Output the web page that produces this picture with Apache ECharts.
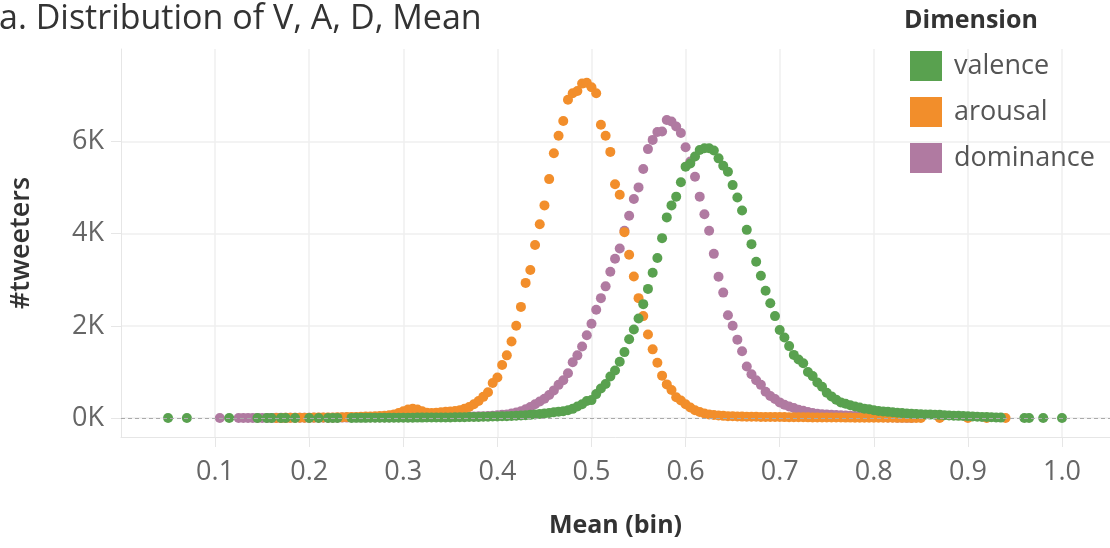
<!DOCTYPE html>
<html>
<head>
<meta charset="utf-8">
<script src="https://cdn.jsdelivr.net/npm/echarts@6/dist/echarts.min.js"></script>
<style>
html,body{margin:0;padding:0;background:#fff;}
#chart{width:1110px;height:548px;}
</style>
</head>
<body>
<div id="chart"></div>
<script>
// ---- data: [Mean bin, #tweeters] ----
const xTicks = [0.1, 0.2, 0.3, 0.4, 0.5, 0.6, 0.7, 0.8, 0.9, 1.0];
const yTicks = [0, 2000, 4000, 6000];
const legendNames = ['valence', 'arousal', 'dominance'];

const valence = [
  [0.05,1],[0.07,1],[0.115,1],[0.145,2],[0.155,2],[0.16,2],[0.17,2],[0.175,2],[0.185,3],[0.2,3],[0.21,3],[0.22,3],[0.225,3],[0.23,4],
  [0.245,4],[0.25,5],[0.255,5],[0.26,5],[0.265,6],[0.27,6],[0.275,6],[0.28,7],[0.285,7],[0.29,8],[0.295,8],[0.3,8],
  [0.305,9],[0.31,9],[0.315,10],[0.32,10],[0.325,11],[0.33,12],[0.335,12],[0.34,13],[0.345,14],[0.35,15],
  [0.355,17],[0.36,18],[0.365,20],[0.37,22],[0.375,24],[0.38,26],[0.385,28],[0.39,30],[0.395,33],[0.4,35],
  [0.405,38],[0.41,42],[0.415,46],[0.42,50],[0.425,55],[0.43,60],[0.435,70],[0.44,80],[0.445,90],[0.45,100],
  [0.455,110],[0.46,125],[0.465,140],[0.47,150],[0.475,170],[0.48,200],[0.485,250],[0.49,300],[0.495,370],[0.5,390],
  [0.505,520],[0.51,640],[0.515,740],[0.52,900],[0.525,1030],[0.53,1220],[0.535,1430],[0.54,1710],[0.545,1920],[0.55,2160],
  [0.555,2470],[0.56,2800],[0.565,3150],[0.57,3470],[0.575,3900],[0.58,4350],[0.585,4610],[0.59,4800],[0.595,5110],[0.6,5450],
  [0.605,5520],[0.61,5670],[0.615,5810],[0.62,5850],[0.625,5850],[0.63,5800],[0.635,5630],[0.64,5470],[0.645,5340],[0.65,5050],
  [0.655,4780],[0.66,4500],[0.665,4080],[0.67,3770],[0.675,3390],[0.68,3085],[0.685,2760],[0.69,2490],[0.695,2210],[0.7,1910],
  [0.705,1745],[0.71,1560],[0.715,1370],[0.72,1270],[0.725,1190],[0.73,1000],[0.735,910],[0.74,770],[0.745,680],[0.75,550],
  [0.755,470],[0.76,400],[0.765,340],[0.77,310],[0.775,280],[0.78,250],[0.785,230],[0.79,205],[0.795,190],[0.8,170],
  [0.805,155],[0.81,145],[0.815,135],[0.82,125],[0.825,115],[0.83,108],[0.835,100],[0.84,94],[0.845,88],[0.85,82],
  [0.855,78],[0.86,75],[0.865,72],[0.87,70],[0.875,64],[0.88,58],[0.885,52],[0.89,48],[0.895,44],[0.9,40],
  [0.905,35],[0.91,30],[0.915,26],[0.92,22],[0.925,18],[0.93,14],[0.935,10],[0.96,2],[0.965,2],[0.98,1],[1.0,1]
];

const arousal = [
  [0.165,3],[0.17,4],[0.175,5],[0.18,5],[0.185,6],[0.19,7],[0.195,8],[0.2,9],[0.205,10],[0.21,11],
  [0.215,12],[0.22,14],[0.225,15],[0.23,17],[0.235,19],[0.24,21],[0.245,23],[0.25,26],[0.255,29],[0.26,32],
  [0.265,36],[0.27,40],[0.275,45],[0.28,52],[0.285,62],[0.29,80],[0.295,110],[0.3,150],[0.305,185],[0.31,200],
  [0.315,185],[0.32,150],[0.325,115],[0.33,110],[0.335,115],[0.34,125],[0.345,135],[0.35,145],[0.355,155],[0.36,170],
  [0.365,200],[0.37,240],[0.375,300],[0.38,370],[0.385,460],[0.39,560],[0.395,760],[0.4,880],[0.405,1150],[0.41,1360],
  [0.415,1660],[0.42,2000],[0.425,2410],[0.43,2930],[0.435,3210],[0.44,3750],[0.445,4200],[0.45,4610],[0.455,5180],[0.46,5740],
  [0.465,6120],[0.47,6440],[0.475,6900],[0.48,7040],[0.485,7090],[0.49,7250],[0.495,7270],[0.5,7170],[0.505,7040],[0.51,6360],
  [0.515,6120],[0.52,5770],[0.525,5070],[0.53,4840],[0.535,4030],[0.54,3540],[0.545,3070],[0.55,2600],[0.555,2210],[0.56,1810],
  [0.565,1490],[0.57,1200],[0.575,920],[0.58,730],[0.585,610],[0.59,450],[0.595,380],[0.6,300],[0.605,230],[0.61,170],
  [0.615,130],[0.62,100],[0.625,80],[0.63,65],[0.635,55],[0.64,48],[0.645,42],[0.65,38],[0.655,35],[0.66,32],
  [0.665,30],[0.67,28],[0.675,27],[0.68,26],[0.685,25],[0.69,24],[0.695,23],[0.7,22],[0.705,21],[0.71,20],
  [0.715,19],[0.72,18],[0.725,17],[0.73,16],[0.735,15],[0.74,14],[0.745,13],[0.75,12],[0.755,12],[0.76,11],
  [0.765,11],[0.77,10],[0.775,10],[0.78,9],[0.785,9],[0.79,8],[0.795,8],[0.8,7],[0.805,7],[0.81,6],
  [0.815,6],[0.82,6],[0.825,5],[0.83,5],[0.835,5],[0.84,4],[0.845,4],[0.85,4],[0.87,3],[0.9,2],[0.92,2],[0.94,1]
];

const dominance = [
  [0.105,1],[0.125,2],[0.13,2],[0.135,3],[0.14,3],[0.145,3],[0.15,4],[0.155,4],[0.16,4],[0.165,5],
  [0.17,5],[0.175,5],[0.18,6],[0.185,6],[0.19,6],[0.195,7],[0.2,7],[0.205,7],[0.21,8],[0.215,8],
  [0.22,8],[0.225,9],[0.23,9],[0.235,10],[0.24,10],[0.245,11],[0.25,11],[0.255,12],[0.26,12],[0.265,13],
  [0.27,13],[0.275,14],[0.28,15],[0.285,15],[0.29,16],[0.295,17],[0.3,18],[0.305,19],[0.31,20],[0.315,21],
  [0.32,22],[0.325,23],[0.33,24],[0.335,26],[0.34,27],[0.345,28],[0.35,30],[0.355,32],[0.36,33],[0.365,35],
  [0.37,36],[0.375,37],[0.38,38],[0.385,42],[0.39,45],[0.395,50],[0.4,60],[0.405,70],[0.41,80],[0.415,100],
  [0.42,120],[0.425,150],[0.43,190],[0.435,240],[0.44,300],[0.445,360],[0.45,420],[0.455,500],[0.46,600],[0.465,720],
  [0.47,820],[0.475,970],[0.48,1210],[0.485,1360],[0.49,1550],[0.495,1795],[0.5,2045],[0.505,2350],[0.51,2600],[0.515,2855],
  [0.52,3170],[0.525,3455],[0.53,3675],[0.535,4060],[0.54,4385],[0.545,4750],[0.55,5000],[0.555,5400],[0.56,5830],[0.565,6030],
  [0.57,6200],[0.575,6210],[0.58,6460],[0.585,6430],[0.59,6320],[0.595,6180],[0.6,5870],[0.605,5560],[0.61,5230],[0.615,4800],
  [0.62,4420],[0.625,4060],[0.63,3560],[0.635,3065],[0.64,2720],[0.645,2230],[0.65,2000],[0.655,1700],[0.66,1450],[0.665,1120],
  [0.67,950],[0.675,820],[0.68,720],[0.685,570],[0.69,480],[0.695,415],[0.7,340],[0.705,290],[0.71,250],[0.715,220],
  [0.72,180],[0.725,160],[0.73,130],[0.735,110],[0.74,95],[0.745,85],[0.75,78],[0.755,72],[0.76,66],[0.765,60],
  [0.77,55],[0.775,50],[0.78,45],[0.785,40],[0.79,35],[0.795,30],[0.8,26],[0.805,22],[0.81,18],[0.815,14],
  [0.82,11],[0.825,9],[0.83,7],[0.835,5],[0.84,4]
];

const colors = { valence: '#59A14F', arousal: '#F28E2B', dominance: '#B07AA1' };
const FONT = '"Open Sans", sans-serif';

const chart = echarts.init(document.getElementById('chart'), null, { renderer: 'canvas' });

function scatter(name, data, extra) {
  return Object.assign({
    name: name,
    type: 'scatter',
    data: data,
    symbol: 'circle',
    symbolSize: 10,
    itemStyle: { color: colors[name], opacity: 1 },
    emphasis: { disabled: true },
    silent: true
  }, extra || {});
}

chart.setOption({
  animation: false,
  backgroundColor: '#fff',
  textStyle: { fontFamily: FONT },
  title: [
    { text: 'a. Distribution of V, A, D, Mean', left: -1, top: 2, padding: 0,
      textStyle: { fontFamily: FONT, fontSize: 34, fontWeight: 'normal', color: '#333' } },
    { text: 'Dimension', left: 904, top: 8, padding: 0,
      textStyle: { fontFamily: FONT, fontSize: 25, fontWeight: 'bold', color: '#333' } }
  ],
  legend: {
    data: legendNames,
    orient: 'vertical',
    left: 910, top: 51, padding: 0,
    icon: 'rect',
    itemWidth: 32, itemHeight: 30, itemGap: 16,
    selectedMode: false,
    textStyle: { fontFamily: FONT, fontSize: 27, color: '#555', padding: [0, 0, 0, 7] }
  },
  grid: { left: 121, right: 0, top: 49, bottom: 111, containLabel: false, outerBoundsMode: 'none' },
  xAxis: {
    type: 'value', min: 0, max: 1.051,
    name: 'Mean (bin)', nameLocation: 'middle', nameGap: 76,
    nameTextStyle: { fontFamily: FONT, fontSize: 25, fontWeight: 'bold', color: '#333' },
    axisLine: { show: true, onZero: false, lineStyle: { color: '#e6e6e6', width: 1 } },
    axisTick: { show: true, length: 10, customValues: xTicks, lineStyle: { color: '#e6e6e6' } },
    axisLabel: { customValues: xTicks, margin: 22, fontFamily: FONT, fontSize: 27, color: '#666',
      formatter: v => v.toFixed(1) },
    splitLine: { show: true, lineStyle: { color: '#efefef', width: 1.5 } }
  },
  yAxis: {
    type: 'value', min: -410, max: 8000,
    name: '#tweeters', nameLocation: 'middle', nameGap: 86,
    nameTextStyle: { fontFamily: FONT, fontSize: 27, fontWeight: 600, color: '#333' },
    axisLine: { show: true, onZero: false, lineStyle: { color: '#e6e6e6', width: 1 } },
    axisTick: { show: true, length: 10, customValues: yTicks, lineStyle: { color: '#e6e6e6' } },
    axisLabel: { customValues: yTicks, margin: 17, fontFamily: FONT, fontSize: 27, color: '#666',
      formatter: v => (v / 1000) + 'K' },
    splitLine: { show: true, lineStyle: { color: '#efefef', width: 1.5 } }
  },
  series: [
    scatter('dominance', dominance, {
      markLine: {
        silent: true, symbol: 'none', label: { show: false },
        lineStyle: { color: '#aaa', type: [4, 3], width: 1 },
        data: [{ yAxis: 0 }]
      }
    }),
    scatter('arousal', arousal),
    scatter('valence', valence)
  ]
});
</script>
</body>
</html>
